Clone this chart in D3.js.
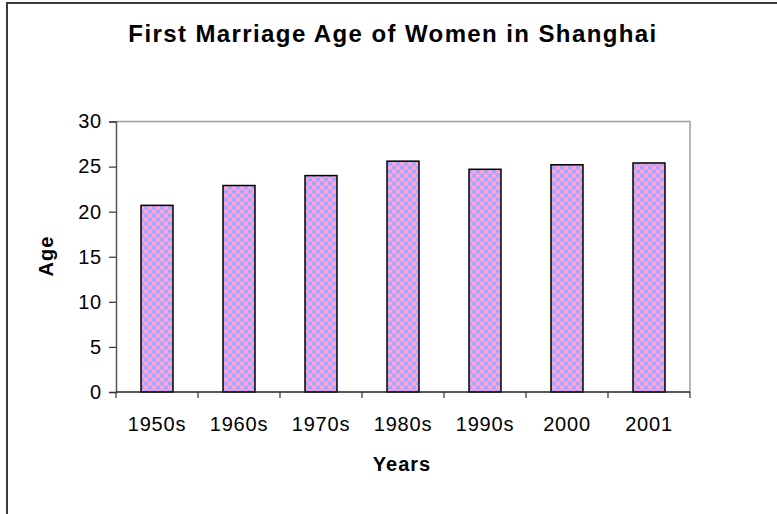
<!DOCTYPE html>
<html>
<head>
<meta charset="utf-8">
<script src="https://cdnjs.cloudflare.com/ajax/libs/d3/7.8.5/d3.min.js"></script>
<style>
body { margin: 0; background: #fff; }
text { font-family: "Liberation Sans", Arial, sans-serif; }
</style>
</head>
<body>
<script>
var years = ["1950s", "1960s", "1970s", "1980s", "1990s", "2000", "2001"];
var ages = [20.7, 22.9, 24.0, 25.6, 24.7, 25.2, 25.4];
var ageTicks = [0, 5, 10, 15, 20, 25, 30];

var w = 777, h = 514;
var margin = {top: 121.5, right: 87, bottom: 122, left: 116};

var svg = d3.select("body").append("svg").attr("width", w).attr("height", h);

// checker pattern for the bars
var pat = svg.append("defs").append("pattern")
  .attr("id", "checker").attr("patternUnits", "userSpaceOnUse")
  .attr("width", 8).attr("height", 8);
pat.append("rect").attr("width", 8).attr("height", 8).attr("fill", "#ffa3d6");
pat.append("rect").attr("width", 4).attr("height", 4).attr("fill", "#a6a6ff");
pat.append("rect").attr("x", 4).attr("y", 4).attr("width", 4).attr("height", 4).attr("fill", "#a6a6ff");

// outer chart frame
svg.append("rect").attr("x", 7).attr("y", 3).attr("width", w + 10).attr("height", h + 10)
  .attr("fill", "none").attr("stroke", "#3a3a3a").attr("stroke-width", 2);

var iw = w - margin.left - margin.right, ih = h - margin.top - margin.bottom;
var g = svg.append("g").attr("transform", `translate(${margin.left}, ${margin.top})`);

var x = d3.scaleBand().domain(years).range([0, iw]).paddingInner(0.61).paddingOuter(0.305);
var xTicks = d3.scaleBand().domain(years).range([0, iw]);
var y = d3.scaleLinear().domain([0, 30]).range([ih, 0]);

// plot area border (top and right)
g.append("path").attr("d", `M0,0H${iw}V${ih}`).attr("fill", "none")
  .attr("stroke", "#a0a0a0").attr("stroke-width", 1.5);

g.selectAll(".bar").data(ages).enter().append("rect")
  .attr("class", "bar")
  .attr("x", function(d, i) { return x(years[i]); })
  .attr("y", function(d) { return y(d); })
  .attr("width", x.bandwidth())
  .attr("height", function(d) { return ih - y(d); })
  .attr("fill", "url(#checker)")
  .attr("stroke", "#000").attr("stroke-width", 1.5);

// y axis
var yAxis = g.append("g").call(d3.axisLeft(y).tickValues(ageTicks).tickSize(7).tickPadding(7));
yAxis.select(".domain").attr("stroke", "#555").attr("stroke-width", 1.5);
yAxis.selectAll(".tick line").attr("stroke", "#333").attr("stroke-width", 1.2);
yAxis.selectAll("text").attr("font-size", 20).attr("fill", "#000").attr("letter-spacing", 0.8)
  .style("font-family", "Liberation Sans, Arial, sans-serif");

// x axis with ticks between categories
var xa = g.append("g").attr("transform", `translate(0, ${ih})`);
xa.append("line").attr("x1", 0).attr("x2", iw).attr("stroke", "#222").attr("stroke-width", 1.5);
xa.selectAll(".xt").data(d3.range(years.length + 1)).enter().append("line")
  .attr("x1", function(i) { return i * xTicks.step(); })
  .attr("x2", function(i) { return i * xTicks.step(); })
  .attr("y1", 0).attr("y2", 6).attr("stroke", "#333").attr("stroke-width", 1.2);
xa.selectAll(".xl").data(years).enter().append("text")
  .attr("x", function(d) { return xTicks(d) + xTicks.bandwidth() / 2; })
  .attr("y", 39).attr("text-anchor", "middle").attr("font-size", 20).attr("letter-spacing", 0.8)
  .text(function(d) { return d; });

svg.append("text").attr("x", 393).attr("y", 42).attr("text-anchor", "middle")
  .attr("font-size", 24).attr("font-weight", "bold").attr("letter-spacing", 1.4)
  .text("First Marriage Age of Women in Shanghai");

svg.append("text").attr("x", 402).attr("y", 471).attr("text-anchor", "middle")
  .attr("font-size", 20).attr("font-weight", "bold").attr("letter-spacing", 1).text("Years");

svg.append("text").attr("transform", "translate(53, 256) rotate(-90)").attr("text-anchor", "middle")
  .attr("font-size", 20).attr("font-weight", "bold").attr("letter-spacing", 1).text("Age");
</script>
</body>
</html>
